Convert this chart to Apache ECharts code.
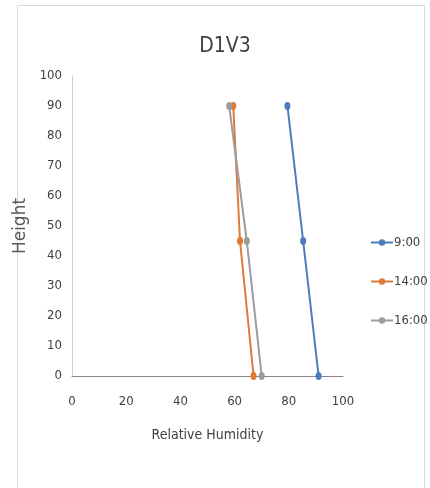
<!DOCTYPE html>
<html>
<head>
<meta charset="utf-8">
<script src="https://cdn.jsdelivr.net/npm/echarts@6/dist/echarts.min.js"></script>
<style>
html,body{margin:0;padding:0;background:#fff;}
#chart{width:430px;height:488px;}
</style>
</head>
<body>
<div id="chart"></div>
<script>
var heights = [90, 45, 0];
var seriesNames = ['9:00', '14:00', '16:00'];
var rh900 = [79.5, 85.3, 91];
var rh1400 = [59.5, 62, 67];
var rh1600 = [58, 64.5, 70];
var xTicks = [0, 20, 40, 60, 80, 100];
var yTicks = [0, 10, 20, 30, 40, 50, 60, 70, 80, 90, 100];

var colors = ['#4a7ebb', '#e07a35', '#9c9c9c'];
var narrow = "'Liberation Sans Narrow', 'DejaVu Sans Condensed', 'Arial Narrow', sans-serif";

function pairs(xs) {
  return xs.map(function (x, i) { return [x, heights[i]]; });
}
var allValues = [rh900, rh1400, rh1600];

var chart = echarts.init(document.getElementById('chart'), null, {renderer: 'canvas'});
chart.setOption({
  backgroundColor: '#ffffff',
  animation: false,
  color: colors,
  graphic: [{
    type: 'rect',
    shape: {x: 17.5, y: 5.5, width: 407, height: 520},
    style: {fill: 'none', stroke: '#d9d9d9', lineWidth: 1},
    silent: true
  }],
  title: {
    text: 'D1V3',
    left: 220,
    textAlign: 'center',
    top: 31,
    textStyle: {fontFamily: narrow, fontSize: 21, fontWeight: 'normal', color: '#404040'}
  },
  legend: {
    orient: 'vertical',
    left: 365,
    top: 231,
    itemWidth: 22,
    itemHeight: 8,
    itemGap: 26,
    data: seriesNames,
    textStyle: {fontFamily: narrow, fontSize: 13, color: '#404040', padding: [0, 0, 0, -4]}
  },
  grid: {left: 72, right: 87, top: 76, bottom: 112},
  xAxis: {
    type: 'value',
    min: xTicks[0],
    max: xTicks[xTicks.length - 1],
    interval: xTicks[1] - xTicks[0],
    name: 'Relative Humidity',
    nameLocation: 'middle',
    nameGap: 52,
    nameTextStyle: {fontFamily: narrow, fontSize: 14, color: '#404040'},
    axisLine: {show: true, onZero: false, lineStyle: {color: '#868686', width: 1}},
    axisTick: {show: false},
    axisLabel: {fontFamily: narrow, fontSize: 13, color: '#404040', margin: 19},
    splitLine: {show: false}
  },
  yAxis: {
    type: 'value',
    min: yTicks[0],
    max: yTicks[yTicks.length - 1],
    interval: yTicks[1] - yTicks[0],
    name: 'Height',
    nameLocation: 'middle',
    nameRotate: 90,
    nameGap: 28,
    nameTextStyle: {fontFamily: "'DejaVu Sans', sans-serif", fontSize: 17, color: '#595959'},
    axisLine: {show: true, lineStyle: {color: '#d0d0d0', width: 1}},
    axisTick: {show: false},
    axisLabel: {fontFamily: narrow, fontSize: 13, color: '#404040', margin: 10},
    splitLine: {show: false}
  },
  series: seriesNames.map(function (name, i) {
    return {
      name: name,
      type: 'line',
      data: pairs(allValues[i]),
      symbol: 'circle',
      symbolSize: [6, 8],
      showSymbol: true,
      lineStyle: {width: 2, color: colors[i]},
      itemStyle: {color: colors[i]}
    };
  })
});
</script>
</body>
</html>
